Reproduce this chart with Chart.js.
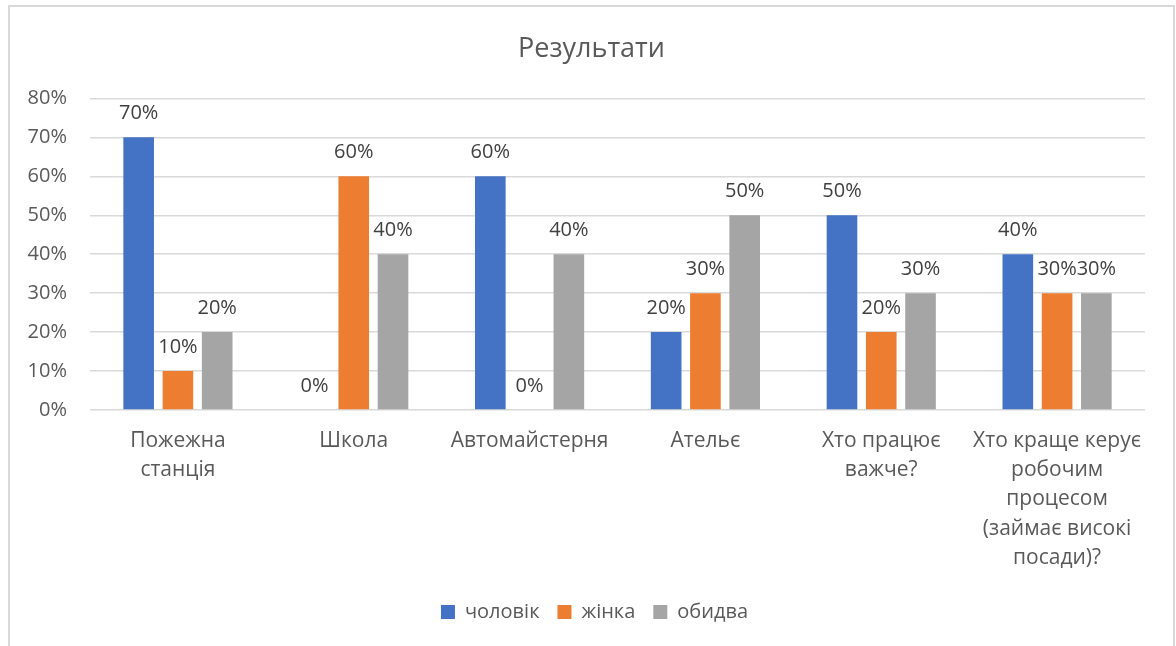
<!DOCTYPE html>
<html>
<head>
<meta charset="utf-8">
<script src="https://cdn.jsdelivr.net/npm/chart.js@4"></script>
<style>
  html, body { margin: 0; padding: 0; background: #fff; }
  #wrap { position: relative; width: 1176px; height: 646px; overflow: hidden; }
  #frame { position: absolute; left: 8px; top: 5px; width: 1163px; height: 700px; border: 2px solid #d9d9d9; pointer-events: none; }
  canvas { position: absolute; left: 0; top: 0; }
</style>
</head>
<body>
<div id="wrap">
  <canvas id="c" width="1176" height="646"></canvas>
  <div id="frame"></div>
</div>
<script>
const categories = [
  ["Пожежна", "станція"],
  ["Школа"],
  ["Автомайстерня"],
  ["Ательє"],
  ["Хто працює", "важче?"],
  ["Хто краще керує", "робочим", "процесом", "(займає високі", "посади)?"]
];
const seriesNames = ["чоловік", "жінка", "обидва"];
const men = [70, 0, 60, 20, 50, 40];
const women = [10, 60, 0, 30, 20, 30];
const both = [20, 40, 40, 50, 30, 30];
const seriesColors = ["#4472C4", "#ED7D31", "#A5A5A5"];
const yTicks = [0, 10, 20, 30, 40, 50, 60, 70, 80];

const FONT = "'Open Sans', 'DejaVu Sans', sans-serif";
const TXT = "#595959";
const FS = 20;

const valueLabels = {
  id: "valueLabels",
  afterDatasetsDraw(chart) {
    const ctx = chart.ctx;
    ctx.save();
    ctx.font = FS + "px " + FONT;
    ctx.fillStyle = "#404040";
    ctx.textAlign = "center";
    ctx.textBaseline = "middle";
    chart.data.datasets.forEach((ds, i) => {
      const meta = chart.getDatasetMeta(i);
      meta.data.forEach((bar, j) => {
        ctx.fillText(ds.data[j] + "%", bar.x, bar.y - 24);
      });
    });
    ctx.restore();
  }
};

// centre title and legend on the whole framed chart, not on the padded layout box
const recentre = {
  id: "recentre",
  beforeDraw(chart) {
    if (chart.$recentred) return;
    chart.$recentred = true;
    if (chart.titleBlock) { chart.titleBlock.left += 14; chart.titleBlock.right += 14; }
    if (chart.legend) { chart.legend.left += 17; chart.legend.right += 17; }
  }
};

new Chart(document.getElementById("c"), {
  type: "bar",
  data: {
    labels: categories,
    datasets: [
      { label: seriesNames[0], data: men, backgroundColor: seriesColors[0] },
      { label: seriesNames[1], data: women, backgroundColor: seriesColors[1] },
      { label: seriesNames[2], data: both, backgroundColor: seriesColors[2] }
    ]
  },
  options: {
    responsive: false,
    animation: false,
    events: [],
    datasets: { bar: { categoryPercentage: 0.67, barPercentage: 0.78 } },
    layout: { padding: { left: 10, right: 31, top: 0, bottom: 14 } },
    plugins: {
      title: {
        display: true,
        text: "Результати",
        color: TXT,
        font: { family: FONT, size: 27, weight: "normal" },
        padding: { top: 33, bottom: 33 }
      },
      legend: {
        position: "bottom",
        labels: {
          color: TXT,
          font: { family: FONT, size: FS },
          boxWidth: 14,
          boxHeight: 14,
          padding: 18
        }
      },
      tooltip: { enabled: false }
    },
    scales: {
      x: {
        grid: { display: false, drawTicks: false },
        border: { display: false },
        ticks: {
          color: TXT,
          font: { family: FONT, size: 21, lineHeight: 1.4 },
          padding: 16,
          maxRotation: 0,
          autoSkip: false
        },
        afterFit(scale) { scale.height = 174; }
      },
      y: {
        min: 0,
        max: 80,
        afterBuildTicks(scale) { scale.ticks = yTicks.map(v => ({ value: v })); },
        grid: { color: "#d9d9d9", lineWidth: 1.5, drawTicks: false },
        border: { display: false },
        ticks: {
          color: TXT,
          font: { family: FONT, size: FS },
          padding: 23,
          callback: v => v + "%"
        },
        afterFit(scale) { scale.width = 80; }
      }
    }
  },
  plugins: [valueLabels, recentre]
});
</script>
</body>
</html>
